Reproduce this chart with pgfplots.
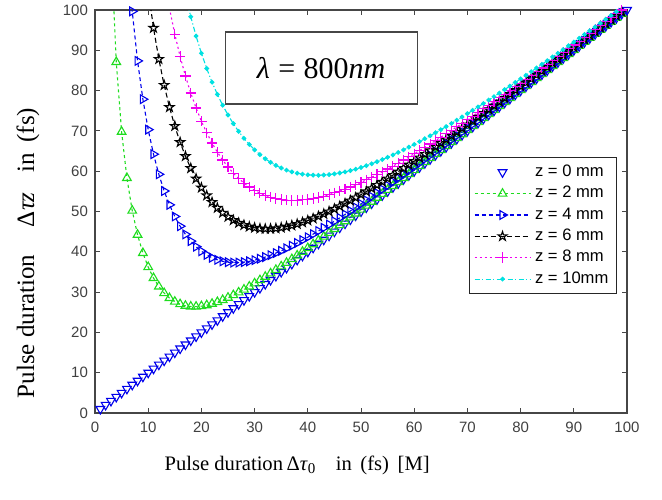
\documentclass[border=0pt]{standalone}
\usepackage{fontspec}
\setmainfont{Liberation Serif}
\setsansfont{Liberation Sans}
\usepackage{pgfplots}
\pgfplotsset{compat=1.18}
\usetikzlibrary{plotmarks}

\definecolor{mblue}{RGB}{0,0,235}
\definecolor{mgreen}{RGB}{30,220,30}
\definecolor{mblack}{RGB}{0,0,0}
\definecolor{mmag}{RGB}{240,0,240}
\definecolor{mcyan}{RGB}{0,225,225}
\definecolor{axgray}{RGB}{70,70,70}

% MATLAB-like open pentagram
\pgfdeclareplotmark{pent}{%
  \pgfpathmoveto{\pgfpointpolar{90}{\pgfplotmarksize}}%
  \pgfpathlineto{\pgfpointpolar{126}{0.382\pgfplotmarksize}}%
  \pgfpathlineto{\pgfpointpolar{162}{\pgfplotmarksize}}%
  \pgfpathlineto{\pgfpointpolar{198}{0.382\pgfplotmarksize}}%
  \pgfpathlineto{\pgfpointpolar{234}{\pgfplotmarksize}}%
  \pgfpathlineto{\pgfpointpolar{270}{0.382\pgfplotmarksize}}%
  \pgfpathlineto{\pgfpointpolar{306}{\pgfplotmarksize}}%
  \pgfpathlineto{\pgfpointpolar{342}{0.382\pgfplotmarksize}}%
  \pgfpathlineto{\pgfpointpolar{18}{\pgfplotmarksize}}%
  \pgfpathlineto{\pgfpointpolar{54}{0.382\pgfplotmarksize}}%
  \pgfpathclose\pgfusepathqstroke}

\begin{document}
\begin{tikzpicture}
\begin{axis}[
  scale only axis, width=266pt, height=201.5pt,
  xmin=0, xmax=100, ymin=0, ymax=100,
  xtick={0,10,...,100}, ytick={0,10,...,100},
  tick align=inside, major tick length=2.5pt,
  axis line style={axgray, line width=0.6pt},
  tick style={axgray, line width=0.5pt},
  /pgf/number format/assume math mode=true,
  tick label style={font=\sffamily\fontsize{7.5}{8}\selectfont, text=black!75},
  xticklabel style={yshift=-1pt},
  label style={font=\fontsize{10.3}{12}\selectfont},
  xlabel={Pulse duration\,Δ\textit{τ}\raisebox{-0.35ex}{\fontsize{7.5}{8}\selectfont 0}\quad in\, (fs)\, [M]},
  xlabel style={at={(axis description cs:0.38,-0.13)}, anchor=center},
  ylabel={Pulse duration\hspace{1.1em}Δ\textit{τz}\hspace{0.8em}in\, (fs)},
  ylabel style={at={(axis description cs:-0.126,0.397)}, anchor=center,
    font=\fontsize{12.5}{14}\selectfont},
  legend style={at={(rel axis cs:0.981,0.635)}, anchor=north east,
    font=\sffamily\fontsize{8.3}{9}\selectfont, draw=black!85, line width=0.5pt,
    row sep=0pt, inner xsep=2pt, inner ysep=2pt,
    nodes={inner ysep=1.7pt}},
  legend cell align=left,
  legend image code/.code={\draw[mark repeat=2,mark phase=2]
    plot coordinates {(0pt,0pt) (14pt,0pt) (28pt,0pt)};},
  every axis plot/.append style={line width=0.55pt},
]
% z = 0 mm
\addplot[mblue, only marks, mark=triangle, mark size=2.5pt, mark options={rotate=180}] coordinates {
(1,1) (2,2) (3,3) (4,4) (5,5) (6,6) (7,7) (8,8) (9,9) (10,10)
(11,11) (12,12) (13,13) (14,14) (15,15) (16,16) (17,17) (18,18) (19,19) (20,20)
(21,21) (22,22) (23,23) (24,24) (25,25) (26,26) (27,27) (28,28) (29,29) (30,30)
(31,31) (32,32) (33,33) (34,34) (35,35) (36,36) (37,37) (38,38) (39,39) (40,40)
(41,41) (42,42) (43,43) (44,44) (45,45) (46,46) (47,47) (48,48) (49,49) (50,50)
(51,51) (52,52) (53,53) (54,54) (55,55) (56,56) (57,57) (58,58) (59,59) (60,60)
(61,61) (62,62) (63,63) (64,64) (65,65) (66,66) (67,67) (68,68) (69,69) (70,70)
(71,71) (72,72) (73,73) (74,74) (75,75) (76,76) (77,77) (78,78) (79,79) (80,80)
(81,81) (82,82) (83,83) (84,84) (85,85) (86,86) (87,87) (88,88) (89,89) (90,90)
(91,91) (92,92) (93,93) (94,94) (95,95) (96,96) (97,97) (98,98) (99,99) (100,100)};
\addlegendentry{z = 0 mm}
% z = 2 mm
\addplot[mgreen, dash pattern=on 1.5pt off 1.5pt, mark=triangle, mark size=2.5pt, mark options={solid}] coordinates {
(3,116.0) (4,87.09) (5,69.78) (6,58.31) (7,50.20) (8,44.23) (9,39.70) (10,36.21)
(11,33.49) (12,31.38) (13,29.76) (14,28.53) (15,27.63) (16,27.00) (17,26.61) (18,26.42) (19,26.39) (20,26.51)
(21,26.75) (22,27.10) (23,27.53) (24,28.04) (25,28.61) (26,29.24) (27,29.92) (28,30.63) (29,31.38) (30,32.17)
(31,32.97) (32,33.80) (33,34.64) (34,35.51) (35,36.39) (36,37.27) (37,38.18) (38,39.09) (39,40.01) (40,40.94)
(41,41.88) (42,42.82) (43,43.76) (44,44.71) (45,45.66) (46,46.62) (47,47.58) (48,48.55) (49,49.51) (50,50.48)
(51,51.46) (52,52.43) (53,53.41) (54,54.38) (55,55.36) (56,56.34) (57,57.33) (58,58.31) (59,59.29) (60,60.28)
(61,61.27) (62,62.25) (63,63.24) (64,64.23) (65,65.22) (66,66.21) (67,67.20) (68,68.19) (69,69.18) (70,70.18)
(71,71.17) (72,72.16) (73,73.16) (74,74.15) (75,75.14) (76,76.14) (77,77.13) (78,78.13) (79,79.12) (80,80.12)
(81,81.11) (82,82.11) (83,83.11) (84,84.10) (85,85.10) (86,86.10) (87,87.09) (88,88.09) (89,89.09) (90,90.08)
(91,91.08) (92,92.08) (93,93.08) (94,94.07) (95,95.07) (96,96.07) (97,97.07) (98,98.06) (99,99.06) (100,100.06)};
\addlegendentry{z = 2 mm}
% z = 4 mm
\addplot[mblue, dash pattern=on 2pt off 1.5pt, mark=triangle, mark size=2.5pt, mark options={solid, rotate=-90}] coordinates {
(6,116.2) (7,99.67) (8,87.37) (9,77.86) (10,70.32)
(11,64.22) (12,59.23) (13,55.09) (14,51.65) (15,48.77) (16,46.35) (17,44.33) (18,42.65) (19,41.27) (20,40.14)
(21,39.24) (22,38.53) (23,38.01) (24,37.64) (25,37.42) (26,37.32) (27,37.33) (28,37.44) (29,37.64) (30,37.92)
(31,38.28) (32,38.69) (33,39.16) (34,39.69) (35,40.25) (36,40.86) (37,41.51) (38,42.18) (39,42.89) (40,43.62)
(41,44.38) (42,45.15) (43,45.95) (44,46.76) (45,47.58) (46,48.42) (47,49.28) (48,50.14) (49,51.02) (50,51.90)
(51,52.79) (52,53.70) (53,54.60) (54,55.52) (55,56.44) (56,57.36) (57,58.29) (58,59.23) (59,60.17) (60,61.11)
(61,62.06) (62,63.01) (63,63.96) (64,64.92) (65,65.88) (66,66.84) (67,67.80) (68,68.77) (69,69.73) (70,70.70)
(71,71.67) (72,72.64) (73,73.62) (74,74.59) (75,75.57) (76,76.55) (77,77.53) (78,78.51) (79,79.49) (80,80.47)
(81,81.45) (82,82.44) (83,83.42) (84,84.41) (85,85.39) (86,86.38) (87,87.37) (88,88.36) (89,89.34) (90,90.33)
(91,91.32) (92,92.31) (93,93.30) (94,94.29) (95,95.28) (96,96.27) (97,97.27) (98,98.26) (99,99.25) (100,100.24)};
\addlegendentry{z = 4 mm}
% z = 6 mm
\addplot[mblack, dash pattern=on 2.5pt off 1.5pt, mark=pent, mark size=2.4pt, mark options={solid}] coordinates {
(10,104.88)
(11,95.54) (12,87.82) (13,81.35) (14,75.87) (15,71.20) (16,67.18) (17,63.72) (18,60.73) (19,58.14) (20,55.90)
(21,53.97) (22,52.31) (23,50.89) (24,49.68) (25,48.67) (26,47.84) (27,47.16) (28,46.63) (29,46.23) (30,45.95)
(31,45.77) (32,45.70) (33,45.71) (34,45.81) (35,45.99) (36,46.23) (37,46.53) (38,46.89) (39,47.30) (40,47.76)
(41,48.26) (42,48.80) (43,49.38) (44,49.99) (45,50.63) (46,51.29) (47,51.98) (48,52.70) (49,53.43) (50,54.18)
(51,54.96) (52,55.74) (53,56.54) (54,57.36) (55,58.18) (56,59.02) (57,59.87) (58,60.73) (59,61.60) (60,62.47)
(61,63.36) (62,64.25) (63,65.14) (64,66.05) (65,66.96) (66,67.87) (67,68.79) (68,69.71) (69,70.64) (70,71.57)
(71,72.51) (72,73.45) (73,74.39) (74,75.33) (75,76.28) (76,77.23) (77,78.18) (78,79.14) (79,80.10) (80,81.06)
(81,82.02) (82,82.98) (83,83.95) (84,84.91) (85,85.88) (86,86.85) (87,87.82) (88,88.80) (89,89.77) (90,90.74)
(91,91.72) (92,92.70) (93,93.67) (94,94.65) (95,95.63) (96,96.61) (97,97.60) (98,98.58) (99,99.56) (100,100.54)};
\addlegendentry{z = 6 mm}
% z = 8 mm
\addplot[mmag, dash pattern=on 1pt off 1.5pt, mark=+, mark size=2.6pt, mark options={solid}] coordinates {
(13,107.9) (14,100.41) (15,94.00) (16,88.46) (17,83.63) (18,79.40) (19,75.69) (20,72.42)
(21,69.53) (22,66.99) (23,64.74) (24,62.77) (25,61.04) (26,59.52) (27,58.20) (28,57.06) (29,56.08) (30,55.25)
(31,54.56) (32,54.00) (33,53.56) (34,53.22) (35,52.98) (36,52.83) (37,52.77) (38,52.78) (39,52.87) (40,53.02)
(41,53.23) (42,53.50) (43,53.82) (44,54.19) (45,54.61) (46,55.06) (47,55.55) (48,56.08) (49,56.64) (50,57.23)
(51,57.84) (52,58.49) (53,59.15) (54,59.84) (55,60.54) (56,61.27) (57,62.01) (58,62.77) (59,63.54) (60,64.33)
(61,65.13) (62,65.94) (63,66.76) (64,67.60) (65,68.44) (66,69.29) (67,70.15) (68,71.01) (69,71.89) (70,72.77)
(71,73.66) (72,74.55) (73,75.45) (74,76.35) (75,77.26) (76,78.18) (77,79.09) (78,80.02) (79,80.94) (80,81.87)
(81,82.80) (82,83.74) (83,84.68) (84,85.62) (85,86.56) (86,87.51) (87,88.46) (88,89.41) (89,90.36) (90,91.32)
(91,92.28) (92,93.24) (93,94.20) (94,95.16) (95,96.12) (96,97.09) (97,98.06) (98,99.02) (99,99.99) (100,100.96)};
\addlegendentry{z = 8 mm}
% z = 10 mm
\addplot[mcyan, dash pattern=on 2.5pt off 1.2pt on 0.6pt off 1.2pt, mark=*, mark size=0.9pt, mark options={solid}] coordinates {
(17,103.75) (18,98.33) (19,93.53) (20,89.27)
(21,85.48) (22,82.09) (23,79.07) (24,76.37) (25,73.95) (26,71.80) (27,69.87) (28,68.16) (29,66.64) (30,65.30)
(31,64.12) (32,63.09) (33,62.20) (34,61.44) (35,60.80) (36,60.27) (37,59.84) (38,59.50) (39,59.26) (40,59.10)
(41,59.01) (42,58.99) (43,59.05) (44,59.16) (45,59.33) (46,59.56) (47,59.83) (48,60.15) (49,60.51) (50,60.92)
(51,61.36) (52,61.84) (53,62.34) (54,62.88) (55,63.45) (56,64.04) (57,64.66) (58,65.30) (59,65.96) (60,66.64)
(61,67.34) (62,68.06) (63,68.79) (64,69.54) (65,70.30) (66,71.07) (67,71.86) (68,72.66) (69,73.46) (70,74.28)
(71,75.11) (72,75.95) (73,76.79) (74,77.65) (75,78.51) (76,79.37) (77,80.25) (78,81.13) (79,82.01) (80,82.90)
(81,83.80) (82,84.70) (83,85.61) (84,86.52) (85,87.43) (86,88.35) (87,89.27) (88,90.19) (89,91.12) (90,92.05)
(91,92.99) (92,93.92) (93,94.86) (94,95.81) (95,96.75) (96,97.70) (97,98.65) (98,99.60) (99,100.55) (100,101.50)};
\addlegendentry{z = 10mm}
\node[draw=axgray, line width=0.6pt, minimum width=96pt, minimum height=36pt, inner sep=0pt,
  font=\fontsize{15}{17}\selectfont] at (axis cs:42.5,85.6) {\textit{λ}\;=\;800\textit{nm}};
\end{axis}
\pgfresetboundingbox
\path[use as bounding box] (current axis.south west) ++(-47.5pt,-43pt) rectangle ([xshift=17.5pt,yshift=5pt]current axis.north east);
\end{tikzpicture}
\end{document}
